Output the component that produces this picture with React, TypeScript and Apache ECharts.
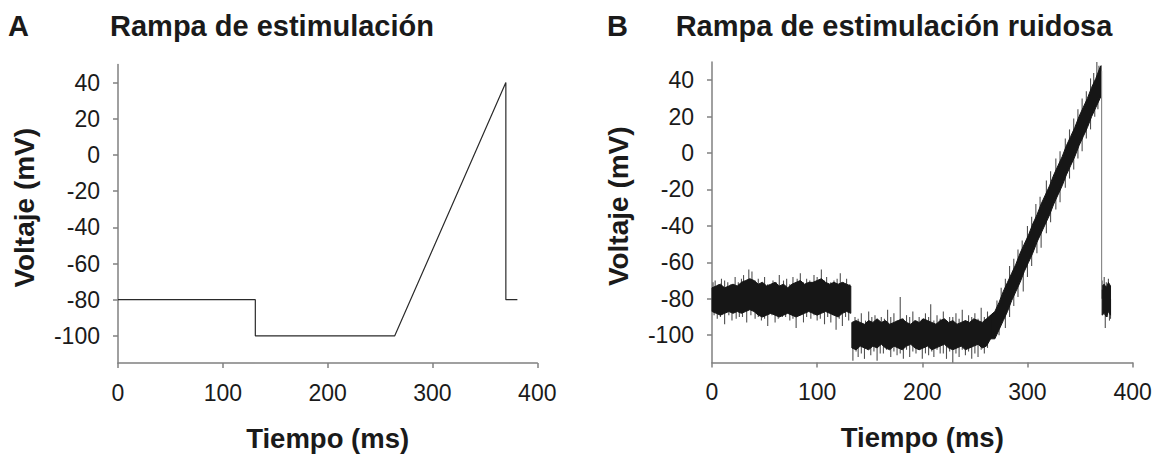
import React, { useEffect, useRef } from "react";
import * as echarts from "echarts";

// Panel A: clean stimulation ramp
const aTime = [0, 131, 131, 264, 370, 370, 381];
const aVolt = [-80, -80, -100, -100, 40, -80, -80];

// Panel B: noisy ramp — dense band envelope, per segment
const b1Time = [0, 4, 8, 12, 16, 20, 24, 28, 32, 36, 40, 44, 48, 52, 56, 60, 64, 68, 72, 76, 80, 84, 88, 92, 96, 100, 104, 108, 112, 116, 120, 124, 128, 132];
const b1High = [-74, -73, -72, -74, -73, -72, -73, -71, -70, -69, -70, -72, -71, -73, -72, -71, -73, -72, -74, -72, -71, -70, -72, -71, -71, -70, -69, -71, -72, -71, -72, -71, -72, -73];
const b1Low = [-87, -88, -89, -88, -87, -88, -87, -88, -87, -86, -87, -89, -90, -89, -88, -89, -90, -89, -88, -89, -90, -89, -88, -87, -88, -89, -88, -87, -88, -89, -90, -88, -87, -88];

const b2Time = [133, 137, 141, 145, 149, 153, 157, 161, 165, 169, 173, 177, 181, 185, 189, 193, 197, 201, 205, 209, 213, 217, 221, 225, 229, 233, 237, 241, 245, 249, 253, 257, 261, 265];
const b2High = [-93, -92, -93, -94, -92, -93, -91, -93, -92, -94, -93, -92, -91, -93, -94, -92, -93, -91, -92, -93, -94, -92, -91, -93, -92, -94, -93, -92, -93, -91, -92, -93, -91, -89];
const b2Low = [-107, -108, -106, -107, -108, -106, -107, -105, -107, -108, -106, -107, -108, -106, -105, -107, -108, -107, -106, -108, -107, -106, -105, -107, -108, -107, -106, -108, -107, -106, -105, -107, -106, -102];

const b3Time = [265, 269, 273, 277, 281, 285, 289, 293, 297, 301, 305, 309, 313, 317, 321, 325, 329, 333, 337, 341, 345, 349, 353, 357, 361, 365, 369, 370];
const b3Low = [-102, -102, -97, -92, -87, -81, -76, -71, -65, -60, -55, -49, -44, -39, -34, -28, -23, -18, -12, -7, -2, 4, 9, 14, 20, 25, 30, 31];
const b3High = [-89, -87, -82, -76, -71, -66, -61, -55, -50, -45, -39, -34, -28, -23, -18, -12, -7, -2, 4, 9, 14, 20, 25, 30, 36, 41, 47, 48];

const b4Time = [371, 373, 375, 377, 379];
const b4Low = [-89, -88, -90, -87, -89];
const b4High = [-73, -72, -74, -71, -73];

// Noise spikes: [time, from, to]
const spikes = [
  [3, -80, -70], [9, -80, -69], [15, -80, -71], [22, -80, -68], [30, -80, -67], [35, -80, -64], [38, -80, -65], [44, -80, -69], [50, -80, -68], [58, -80, -70], [64, -80, -67], [71, -80, -69], [77, -80, -68], [84, -80, -66], [90, -80, -69], [97, -80, -67], [104, -80, -64], [109, -80, -68], [116, -80, -70], [122, -80, -66], [128, -80, -69],
  [1, -80, -71], [6, -80, -72], [12, -80, -70], [18, -80, -72], [25, -80, -71], [28, -80, -69], [41, -80, -70], [47, -80, -71], [53, -80, -72], [61, -80, -71], [68, -80, -70], [74, -80, -72], [81, -80, -69], [87, -80, -71], [93, -80, -70], [100, -80, -68], [107, -80, -70], [113, -80, -71], [119, -80, -69], [125, -80, -71], [131, -80, -72],
  [5, -80, -91], [12, -80, -94], [19, -80, -92], [26, -80, -90], [33, -80, -93], [41, -80, -91], [47, -80, -92], [53, -80, -95], [60, -80, -93], [67, -80, -90], [74, -80, -92], [80, -80, -96], [87, -80, -93], [94, -80, -91], [100, -80, -92], [107, -80, -94], [113, -80, -93], [118, -80, -97], [124, -80, -95], [130, -80, -92],
  [2, -80, -89], [8, -80, -90], [16, -80, -89], [23, -80, -91], [29, -80, -90], [37, -80, -89], [44, -80, -90], [50, -80, -91], [57, -80, -89], [63, -80, -91], [70, -80, -90], [77, -80, -91], [84, -80, -89], [90, -80, -90], [97, -80, -89], [103, -80, -91], [110, -80, -90], [115, -80, -89], [121, -80, -91], [127, -80, -90],
  [136, -100, -90], [142, -100, -88], [149, -100, -87], [155, -100, -89], [161, -100, -90], [167, -100, -86], [173, -100, -88], [179, -100, -79], [185, -100, -89], [191, -100, -87], [197, -100, -90], [203, -100, -88], [208, -100, -83], [214, -100, -89], [220, -100, -87], [226, -100, -90], [232, -100, -88], [238, -100, -86], [244, -100, -89], [250, -100, -88], [256, -100, -85], [262, -100, -87],
  [139, -100, -91], [146, -100, -92], [152, -100, -90], [158, -100, -92], [164, -100, -91], [170, -100, -90], [176, -100, -92], [182, -100, -91], [188, -100, -90], [194, -100, -92], [200, -100, -91], [206, -100, -90], [211, -100, -92], [217, -100, -91], [223, -100, -92], [229, -100, -90], [235, -100, -91], [241, -100, -92], [247, -100, -90], [253, -100, -91], [259, -100, -90],
  [134, -100, -114], [139, -100, -112], [145, -100, -113], [151, -100, -111], [157, -100, -114], [163, -100, -110], [170, -100, -112], [176, -100, -111], [182, -100, -113], [188, -100, -112], [194, -100, -110], [200, -100, -113], [206, -100, -111], [211, -100, -112], [217, -100, -110], [223, -100, -113], [229, -100, -115], [235, -100, -112], [241, -100, -111], [247, -100, -113], [253, -100, -112], [259, -100, -110],
  [137, -100, -109], [142, -100, -110], [148, -100, -108], [154, -100, -109], [160, -100, -110], [166, -100, -108], [173, -100, -109], [179, -100, -110], [185, -100, -108], [191, -100, -109], [197, -100, -108], [203, -100, -110], [209, -100, -109], [214, -100, -108], [220, -100, -110], [226, -100, -109], [232, -100, -110], [238, -100, -108], [244, -100, -109], [250, -100, -110], [256, -100, -108], [262, -100, -107],
  [275, -86, -74], [283, -76, -62], [291, -65, -53], [300, -53, -40], [308, -43, -28], [318, -29, -15], [327, -17, -3], [336, -5, 8], [344, 5, 19], [352, 16, 30], [360, 27, 41], [366, 35, 50],
  [271, -92, -81], [279, -81, -69], [287, -71, -58], [295, -60, -48], [304, -48, -35], [312, -37, -24], [322, -24, -10], [331, -12, 1], [340, 0, 13], [348, 11, 24], [356, 21, 34], [363, 31, 44], [368, 37, 48],
  [279, -81, -96], [287, -71, -84], [296, -59, -76], [304, -48, -62], [313, -36, -52], [322, -24, -38], [331, -12, -27], [340, 0, -14], [348, 11, -3], [356, 21, 8], [364, 32, 20],
  [273, -89, -100], [283, -76, -90], [291, -65, -79], [300, -53, -68], [309, -41, -55], [318, -29, -44], [327, -17, -31], [336, -5, -19], [344, 5, -9], [352, 16, 1], [360, 27, 13], [367, 36, 24],
  [373, -80, -68], [377, -80, -69], [374, -80, -96], [378, -80, -92],
  [371, -80, -70], [375, -80, -71], [376, -80, -90], [379, -80, -91],
];
// Return of the ramp to holding potential
const dropLine = [[370.5, 45, -75]];

const yTicks = [-100, -80, -60, -40, -20, 0, 20, 40];
const FONT = "'Liberation Sans', Arial, Helvetica, sans-serif";

function buildRows() {
  const rows: number[][] = [];
  const segs = [
    [b1Time, b1Low, b1High],
    [b2Time, b2Low, b2High],
    [b3Time, b3Low, b3High],
    [b4Time, b4Low, b4High],
  ];
  segs.forEach((s, si) => {
    s[0].forEach((t, i) => rows.push([t, s[1][i], s[2][i], si]));
  });
  return rows;
}

function xAxisCfg(gridIndex: number) {
  return {
    type: "value",
    gridIndex,
    min: 0,
    max: 400,
    interval: 100,
    name: "Tiempo (ms)",
    nameLocation: "middle",
    nameGap: 61,
    nameTextStyle: { fontFamily: FONT, fontSize: 27.5, fontWeight: "bold", color: "#1a1a1a" },
    axisLine: { show: true, onZero: false, lineStyle: { color: "#808080", width: 1.5 } },
    axisTick: { show: true, inside: false, length: 5, lineStyle: { color: "#808080", width: 1.5 } },
    axisLabel: { fontFamily: FONT, fontSize: 23, color: "#1a1a1a", margin: 18 },
    splitLine: { show: false },
  };
}

function yAxisCfg(gridIndex: number) {
  return {
    type: "value",
    gridIndex,
    min: -115,
    max: 50,
    name: "Voltaje (mV)",
    nameLocation: "middle",
    nameGap: 80,
    nameTextStyle: { fontFamily: FONT, fontSize: 28, fontWeight: "bold", color: "#1a1a1a", padding: [0, 0, 0, 12] },
    axisLine: { show: true, onZero: false, lineStyle: { color: "#808080", width: 1.5 } },
    axisTick: { show: true, inside: false, length: 5, customValues: yTicks, lineStyle: { color: "#808080", width: 1.5 } },
    axisLabel: { fontFamily: FONT, fontSize: 23, color: "#1a1a1a", margin: 18, customValues: yTicks },
    splitLine: { show: false },
  };
}

export default function App() {
  const ref = useRef<HTMLDivElement>(null);
  useEffect(() => {
    if (!ref.current) return;
    const chart = echarts.init(ref.current, null, { renderer: "svg" });
    const rows = buildRows();
    const option: any = {
      animation: false,
      backgroundColor: "#ffffff",
      grid: [
        { left: 118, top: 64.5, width: 419.3, height: 300.8, containLabel: false },
        { left: 712, top: 62, width: 420.6, height: 300.5, containLabel: false },
      ],
      xAxis: [xAxisCfg(0), xAxisCfg(1)],
      yAxis: [yAxisCfg(0), yAxisCfg(1)],
      graphic: [
        { type: "text", x: 8, y: 26, style: { text: "A", font: `bold 29px ${FONT}`, fill: "#1a1a1a", textAlign: "left", textVerticalAlign: "middle" } },
        { type: "text", x: 272, y: 26, style: { text: "Rampa de estimulación", font: `bold 29px ${FONT}`, fill: "#1a1a1a", textAlign: "center", textVerticalAlign: "middle" } },
        { type: "text", x: 607, y: 26, style: { text: "B", font: `bold 29px ${FONT}`, fill: "#1a1a1a", textAlign: "left", textVerticalAlign: "middle" } },
        { type: "text", x: 894, y: 26, style: { text: "Rampa de estimulación ruidosa", font: `bold 29px ${FONT}`, fill: "#1a1a1a", textAlign: "center", textVerticalAlign: "middle" } },
      ],
      series: [
        {
          type: "line",
          xAxisIndex: 0,
          yAxisIndex: 0,
          data: aTime.map((t, i) => [t, aVolt[i]]),
          showSymbol: false,
          lineStyle: { color: "#2a2a2a", width: 1.2 },
          silent: true,
        },
        {
          type: "custom",
          xAxisIndex: 1,
          yAxisIndex: 1,
          data: spikes,
          silent: true,
          renderItem: (params: any, api: any) => {
            const p1 = api.coord([api.value(0), api.value(1)]);
            const p2 = api.coord([api.value(0), api.value(2)]);
            return {
              type: "line",
              shape: { x1: p1[0], y1: p1[1], x2: p2[0], y2: p2[1] },
              style: { stroke: "#505050", lineWidth: 1.1 },
            };
          },
        },
        {
          type: "custom",
          xAxisIndex: 1,
          yAxisIndex: 1,
          data: rows,
          silent: true,
          renderItem: (params: any, api: any) => {
            const i = params.dataIndex;
            const cur = rows[i];
            const prev = rows[i - 1];
            if (prev && prev[3] === cur[3]) return { type: "group", children: [] };
            const seg = rows.filter((r) => r[3] === cur[3]);
            const upper = seg.map((r) => api.coord([r[0], r[2]]));
            const lower = seg.slice().reverse().map((r) => api.coord([r[0], r[1]]));
            return {
              type: "polygon",
              shape: { points: upper.concat(lower) },
              style: { fill: "#161616", stroke: "#161616", lineWidth: 1 },
            };
          },
        },
        {
          type: "custom",
          xAxisIndex: 1,
          yAxisIndex: 1,
          data: dropLine,
          silent: true,
          renderItem: (params: any, api: any) => {
            const p1 = api.coord([api.value(0), api.value(1)]);
            const p2 = api.coord([api.value(0), api.value(2)]);
            return {
              type: "line",
              shape: { x1: p1[0], y1: p1[1], x2: p2[0], y2: p2[1] },
              style: { stroke: "#8a8a8a", lineWidth: 1.2 },
            };
          },
        },
      ],
    };
    chart.setOption(option);
    return () => chart.dispose();
  }, []);
  return (
    <div
      ref={ref}
      style={{ position: "absolute", left: 0, top: 0, width: 1159, height: 457, background: "#fff" }}
    />
  );
}
